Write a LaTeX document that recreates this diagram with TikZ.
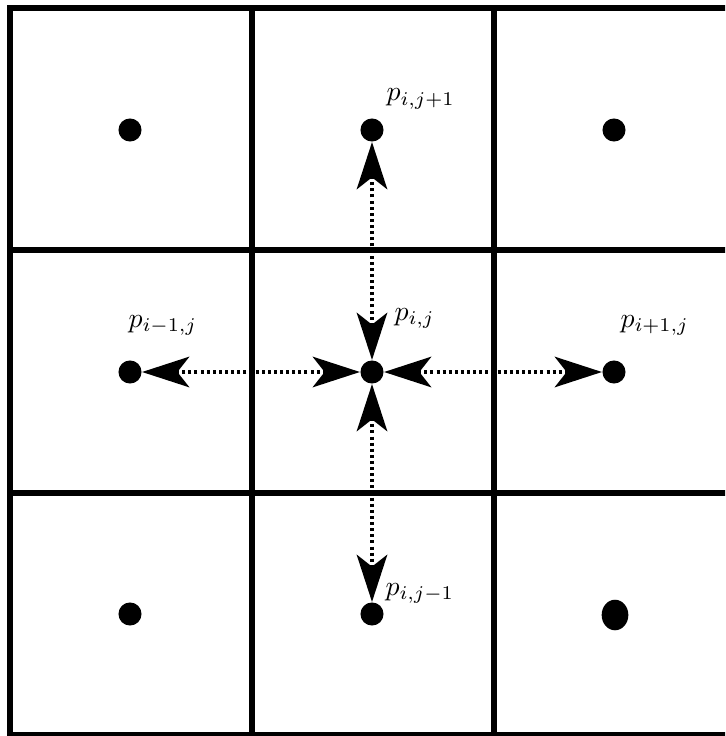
\documentclass[tikz,border=0pt]{standalone}
\usetikzlibrary{arrows.meta,shapes.geometric}
\begin{document}
\begin{tikzpicture}[x=0.36pt,y=-0.36pt,
  gridline/.style={line width=2.3pt},
  pt/.style={circle,fill=black,inner sep=0pt,minimum size=8.3pt},
  ovalpt/.style={ellipse,fill=black,inner sep=0pt,minimum width=9.6pt,minimum height=11pt},
  link/.style={line width=1.1pt, dash pattern=on 1.1pt off 1.1pt,
    {Stealth[length=17pt,width=11pt,inset=4.3pt]}-{Stealth[length=17pt,width=11pt,inset=4.3pt]}},
  lbl/.style={anchor=base west, inner sep=0pt}]
\clip (0,0) rectangle (725,736);
% points
\node[pt] (a11) at (130,130) {};
\node[pt] (a21) at (372,130) {};
\node[pt] (a31) at (614,130) {};
\node[pt] (a12) at (130,372) {};
\node[pt] (a22) at (372,372) {};
\node[pt] (a32) at (614,372) {};
\node[pt] (a13) at (130,614) {};
\node[pt] (a23) at (372,614) {};
\node[ovalpt] (a33) at (615,615) {};
% connectors
\draw[link] (a22) -- (a21);
\draw[link] (a22) -- (a12);
\draw[link] (a22) -- (a32);
\draw[link] (a22) -- (a23);
% grid
\draw[gridline] (10,8) rectangle (736,735);
\draw[gridline] (252,8) -- (252,735);
\draw[gridline] (494,8) -- (494,735);
\draw[gridline] (10,250) -- (736,250);
\draw[gridline] (10,493) -- (736,493);
% labels
\node[lbl] (lN) at (386,101) {$p_{i,j+1}$};
\node[lbl] (lC) at (394,320) {$p_{i,j}$};
\node[lbl] (lW) at (128,327) {$p_{i-1,j}$};
\node[lbl] (lE) at (620,327) {$p_{i+1,j}$};
\node[lbl] (lS) at (385,595) {$p_{i,j-1}$};
\end{tikzpicture}
\end{document}
